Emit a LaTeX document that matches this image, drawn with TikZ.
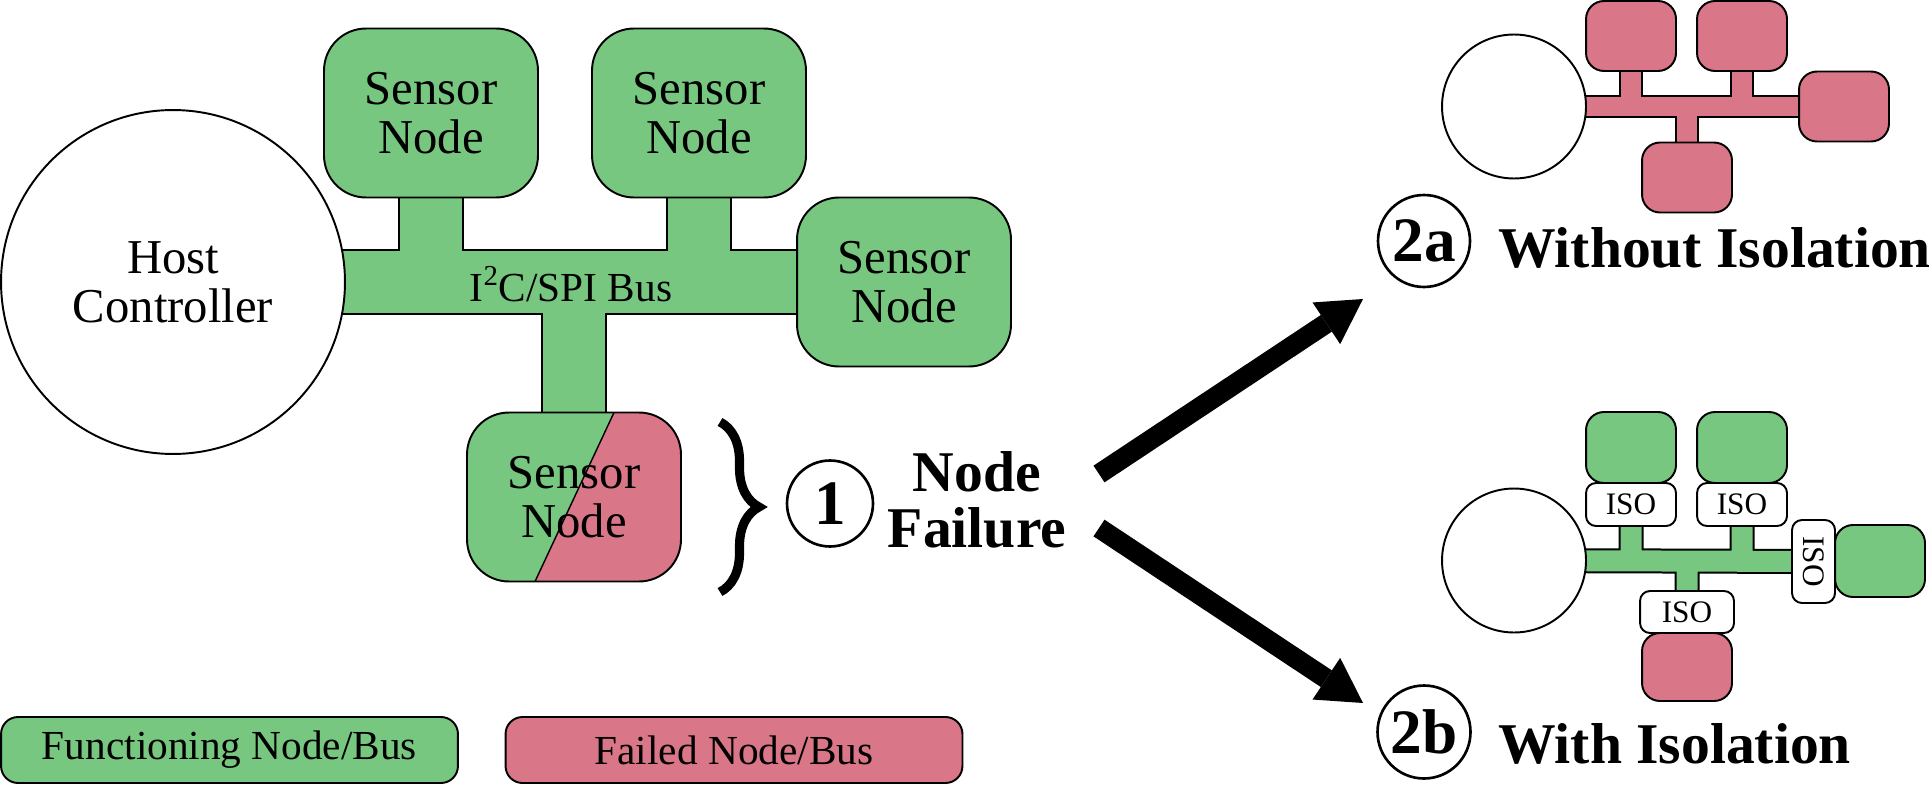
\documentclass[tikz,border=0pt]{standalone}
\usepackage{fontspec}
\setmainfont{Liberation Serif}
\usetikzlibrary{arrows.meta,backgrounds,decorations.pathreplacing}
\definecolor{okgreen}{RGB}{120,199,128}
\definecolor{failred}{RGB}{217,118,136}
\tikzset{
  sensor/.style   = {shape=rectangle, rounded corners=0.84cm,
                     draw, fill=okgreen, line width=1.1pt, align=center,
                     minimum width=4.28cm, minimum height=3.38cm,
                     font=\fontsize{27.7}{27.8}\selectfont},
  host/.style     = {shape=circle, draw, fill=white, line width=1.1pt,
                     align=center, inner sep=0pt,
                     font=\fontsize{27.7}{27.8}\selectfont},
  mini/.style     = {shape=rectangle, rounded corners=0.36cm,
                     draw, line width=1.1pt, inner sep=0pt,
                     minimum width=1.8cm, minimum height=1.4cm},
  iso/.style      = {shape=rectangle, rounded corners=0.2cm,
                     draw, fill=white, line width=1.1pt, inner sep=0pt,
                     minimum width=1.8cm, minimum height=0.86cm,
                     font=\fontsize{17.8}{18}\selectfont},
  stepmark/.style = {shape=circle, draw, line width=1.5pt, inner sep=0pt,
                     font=\bfseries\fontsize{36}{36}\selectfont},
  title/.style    = {font=\bfseries\fontsize{32.8}{31.7}\selectfont},
  legend/.style   = {shape=rectangle, rounded corners=0.34cm,
                     draw, line width=1.1pt,
                     minimum width=9.14cm, minimum height=1.32cm,
                     font=\fontsize{23.5}{24}\selectfont},
  fat/.style      = {line width=0.4cm,
                     -{Triangle[width=1cm, length=0.88cm, line width=0pt]}}
}

\begin{document}
\begin{tikzpicture}
  [
    x = 0.02cm,
    y = -0.02cm
  ]
  \useasboundingbox (0,0) rectangle (1929,784);

  % failure scenario
  \node [host, minimum size=6.88cm] (hc) at (173,282) {Host\\Controller};
  \node [sensor] (s1) at (431,113) {Sensor\\Node};
  \node [sensor] (s2) at (699,113) {Sensor\\Node};
  \node [sensor] (s3) at (904,282) {Sensor\\Node};
  \node [sensor, path picture={
      \fill [failred, sharp corners] ([xshift=0.8cm]path picture bounding box.north)
        -- (path picture bounding box.north east)
        -- (path picture bounding box.south east)
        -- ([xshift=-0.78cm]path picture bounding box.south) -- cycle;
      \draw [line width=0.8pt, sharp corners] ([xshift=0.8cm]path picture bounding box.north)
        -- ([xshift=-0.78cm]path picture bounding box.south);}]
    (s4) at (574,497) {Sensor\\Node};
  \node [font=\fontsize{23.5}{24}\selectfont] (buslabel) at (571,284)
    {I\textsuperscript{2}C/SPI Bus};
  \begin{scope}[on background layer]
    \foreach \w/\c in {1.32cm/black, 1.24cm/okgreen}
      \draw [line width=\w, \c] (hc.center) -- (s3.center)
        (s1.center) -- (s1.center |- hc.center)
        (s2.center) -- (s2.center |- hc.center)
        (s4.center) -- (s4.center |- hc.center);
  \end{scope}

  \draw [line width=5.2pt, decorate, decoration={brace, amplitude=0.78cm}]
    (720,422) coordinate (b0) -- (720,592) coordinate (b1);
  \node [stepmark, minimum size=1.72cm] (m1) at (830,503.5) {1};
  \node [title, align=center] (fail) at (977,500) {Node\\Failure};

  \coordinate (u0) at (1099,474);
  \coordinate (u1) at (1363,299);
  \coordinate (d0) at (1099,528);
  \coordinate (d1) at (1363,703);
  \draw [fat] (u0) -- (u1);
  \draw [fat] (d0) -- (d1);

  % without isolation
  \node [host, minimum size=2.88cm] (ha) at (1514,106.5) {};
  \node [mini, fill=failred] (a1) at (1631,36) {};
  \node [mini, fill=failred] (a2) at (1742,36) {};
  \node [mini, fill=failred] (a3) at (1844,106.5) {};
  \node [mini, fill=failred] (a4) at (1687,177.5) {};
  \begin{scope}[on background layer]
    \foreach \w/\c in {0.48cm/black, 0.4cm/failred}
      \draw [line width=\w, \c] (ha.center) -- (a3.center)
        (a1.center) -- (a1.center |- ha.center)
        (a2.center) -- (a2.center |- ha.center)
        (a4.center) -- (a4.center |- ha.center);
  \end{scope}
  \node [stepmark, minimum size=1.84cm] (m2a) at (1424,241) {2a};
  \node [title, anchor=base west] (t2a) at (1492,267) {Without Isolation};

  % with isolation
  \node [host, minimum size=2.88cm] (hb) at (1514,560.5) {};
  \node [mini, fill=okgreen, minimum height=1.42cm] (g1) at (1631,447.5) {};
  \node [mini, fill=okgreen, minimum height=1.42cm] (g2) at (1742,447.5) {};
  \node [mini, fill=okgreen, minimum height=1.44cm] (g3) at (1880,561) {};
  \node [mini, fill=failred, minimum height=1.36cm] (g4) at (1687,667) {};
  \node [iso] (i1) at (1631,504.5) {ISO};
  \node [iso] (i2) at (1742,504.5) {ISO};
  \node [iso, minimum width=1.66cm, rotate=-90] (i3) at (1813.5,561.5) {ISO};
  \node [iso, minimum width=1.88cm, minimum height=0.84cm] (i4) at (1687,612) {ISO};
  \begin{scope}[on background layer]
    \foreach \w/\c in {0.5cm/black, 0.42cm/okgreen}
      \draw [line width=\w, \c] (hb.center) -- (i3.center)
        (i1.center) -- (i1.center |- hb.center)
        (i2.center) -- (i2.center |- hb.center)
        (i4.center) -- (i4.center |- hb.center);
  \end{scope}
  \node [stepmark, minimum size=1.86cm] (m2b) at (1424,732) {2b};
  \node [title, anchor=base west] (t2b) at (1492,763) {With Isolation};

  % legend
  \node [legend, fill=okgreen] (leg1) at (229.5,750) {Functioning Node/Bus};
  \node [legend, fill=failred] (leg2) at (734,750) {Failed Node/Bus};
\end{tikzpicture}
\end{document}
